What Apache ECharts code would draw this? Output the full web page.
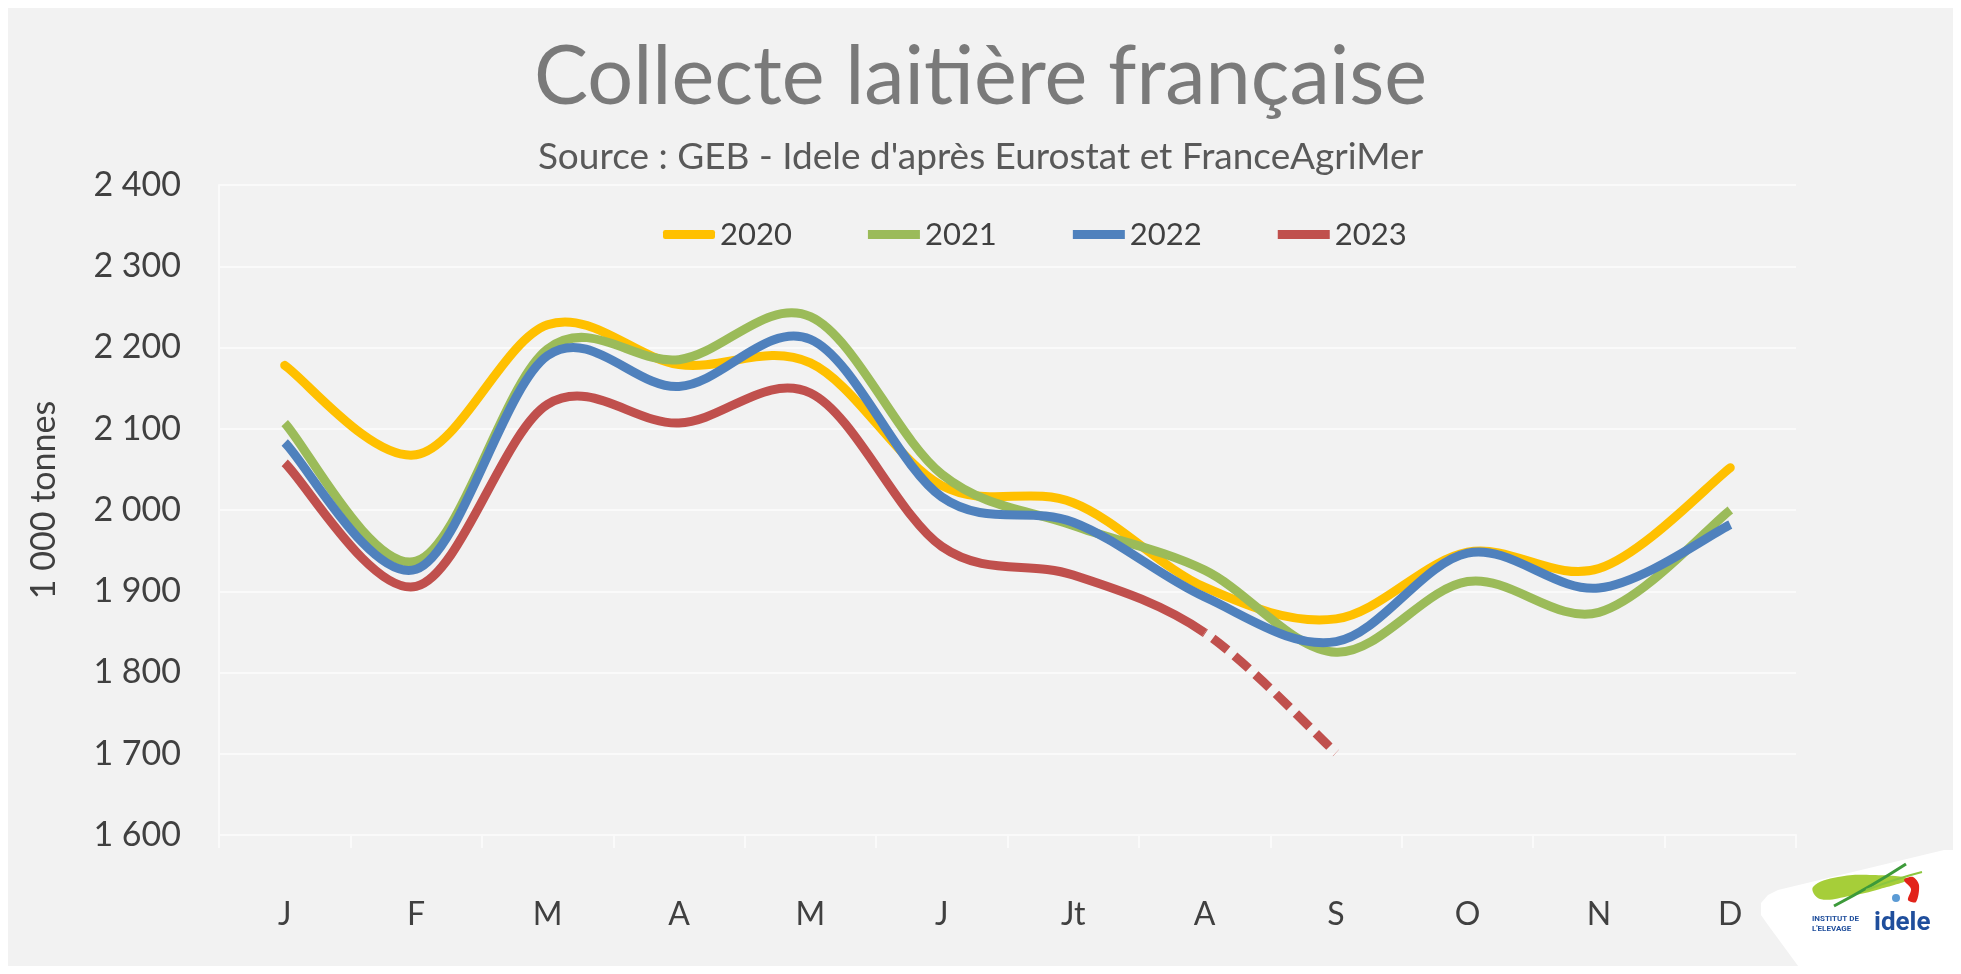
<!DOCTYPE html>
<html>
<head>
<meta charset="utf-8">
<title>Collecte laitière française</title>
<script src="https://cdn.jsdelivr.net/npm/echarts@6/dist/echarts.min.js"></script>
<style>
  html, body { margin: 0; padding: 0; background: #ffffff; }
  #chart { position: absolute; left: 8px; top: 8px; width: 1945px; height: 958px; }
</style>
</head>
<body>
<div id="chart"></div>
<script>
// months as printed under the axis
const months = ["J", "F", "M", "A", "M", "J", "Jt", "A", "S", "O", "N", "D"];

// milk collection, 1 000 tonnes
const collecte2020 = [2178, 2068, 2228, 2179, 2181, 2030, 2009, 1905, 1866, 1948, 1928, 2052];
const collecte2021 = [2107, 1937, 2198, 2185, 2238, 2044, 1981, 1926, 1825, 1912, 1874, 2000];
const collecte2022 = [2083, 1927, 2190, 2152, 2210, 2016, 1985, 1893, 1838, 1947, 1904, 1982];
const collecte2023 = [2058, 1906, 2130, 2107, 2144, 1955, 1920, 1849, 1701];
// from this month on 2023 is an estimate (dashed)
const estimateFrom = 7;

const yTicks = [1600, 1700, 1800, 1900, 2000, 2100, 2200, 2300, 2400];

const FONT = "Lato, 'Open Sans', sans-serif";

function fmtThousands(v) {
  return String(v).replace(/\B(?=(\d{3})+$)/, " ");
}

// Excel-like smoothing (Catmull-Rom, tension 1/6) between pixel points i and i+1
function segment(pts, i) {
  const p0 = pts[i - 1] || pts[i];
  const p1 = pts[i];
  const p2 = pts[i + 1];
  const p3 = pts[i + 2] || pts[i + 1];
  const c1x = p1[0] + (p2[0] - p0[0]) / 6;
  const c1y = p1[1] + (p2[1] - p0[1]) / 6;
  const c2x = p2[0] - (p3[0] - p1[0]) / 6;
  const c2y = p2[1] - (p3[1] - p1[1]) / 6;
  return " C" + c1x + "," + c1y + " " + c2x + "," + c2y + " " + p2[0] + "," + p2[1];
}

function pathBetween(pts, from, to) {
  let d = "M" + pts[from][0] + "," + pts[from][1];
  for (let i = from; i < to; i++) d += segment(pts, i);
  return d;
}

// one smoothed line per year, drawn through the cartesian axes with api.coord
function yearSeries(name, values, color, z, opts) {
  const o = opts || {};
  const dashFrom = o.dashFrom == null ? values.length - 1 : o.dashFrom;
  return {
    name: name,
    type: "custom",
    coordinateSystem: "cartesian2d",
    encode: { x: 0, y: 1 },
    data: values.map((v, i) => [i, v]),
    itemStyle: { color: color },
    z: z,
    renderItem: (params, api) => {
      if (params.dataIndex !== 0) return null;
      const pts = values.map((v, i) => api.coord([i, v]));
      const children = [
        {
          type: "path",
          shape: { pathData: pathBetween(pts, 0, dashFrom) },
          style: { fill: null, stroke: color, lineWidth: 9, lineCap: o.cap || "butt", lineJoin: "round" },
        },
      ];
      if (dashFrom < values.length - 1) {
        children.push({
          type: "path",
          shape: { pathData: pathBetween(pts, dashFrom, values.length - 1) },
          style: { fill: null, stroke: color, lineWidth: 9, lineDash: [19, 9], lineDashOffset: -10 },
        });
      }
      return { type: "group", children: children };
    },
  };
}

const chart = echarts.init(document.getElementById("chart"), null, { renderer: "canvas" });

chart.setOption({
  animation: false,
  backgroundColor: "#f2f2f2",
  textStyle: { fontFamily: FONT },
  title: [
    {
      text: "Collecte laitière française",
      left: "center",
      top: 24,
      textStyle: { fontFamily: FONT, fontSize: 81, fontWeight: "normal", color: "#7a7a7a" },
    },
    {
      text: "Source : GEB - Idele d'après Eurostat et FranceAgriMer",
      left: "center",
      top: 126,
      textStyle: { fontFamily: FONT, fontSize: 37, fontWeight: "normal", color: "#595959" },
    },
  ],
  legend: {
    left: 650,
    top: 206,
    itemWidth: 52,
    itemHeight: 9,
    itemGap: 76,
    textStyle: { fontFamily: FONT, fontSize: 31, color: "#404040" },
    data: [
      { name: "2020", icon: "roundRect" },
      { name: "2021", icon: "rect" },
      { name: "2022", icon: "rect" },
      { name: "2023", icon: "rect" },
    ],
  },
  grid: {
    left: 211,
    right: 157,
    top: 177,
    bottom: 131,
    containLabel: false,
  },
  xAxis: {
    type: "category",
    data: months,
    boundaryGap: true,
    axisLine: { lineStyle: { color: "#fafafa", width: 2 } },
    axisTick: { show: true, length: 13, lineStyle: { color: "#fafafa", width: 2 } },
    axisLabel: { color: "#404040", fontFamily: FONT, fontSize: 32, margin: 64 },
  },
  yAxis: {
    type: "value",
    min: yTicks[0],
    max: yTicks[yTicks.length - 1],
    interval: 100,
    name: "1 000 tonnes",
    nameLocation: "middle",
    nameRotate: 90,
    nameGap: 158,
    nameTextStyle: { color: "#404040", fontFamily: FONT, fontSize: 34, padding: [0, 0, 0, 20] },
    axisLine: { show: true, lineStyle: { color: "#fafafa", width: 2 } },
    axisTick: { show: false },
    axisLabel: {
      color: "#404040",
      fontFamily: FONT,
      fontSize: 34,
      margin: 38,
      formatter: (v) => fmtThousands(v),
    },
    splitLine: { lineStyle: { color: "#fafafa", width: 2 } },
  },
  series: [
    yearSeries("2020", collecte2020, "#ffc000", 2, { cap: "round" }),
    yearSeries("2021", collecte2021, "#9bbb59", 3),
    yearSeries("2022", collecte2022, "#4f81bd", 4),
    yearSeries("2023", collecte2023, "#c0504d", 5, { dashFrom: estimateFrom }),
  ],
  graphic: [
    {
      // white patch holding the Idele logo
      type: "polygon",
      shape: {
        points: [
          [1936, 842], [1953, 842], [1953, 966], [1796, 966],
          [1760, 917], [1753, 907], [1753, 895], [1760, 887], [1770, 882],
        ],
      },
      style: { fill: "#ffffff" },
      z: 100,
    },
    {
      type: "polygon",
      shape: {
        points: [[1805, 879], [1830, 869], [1865, 867], [1900, 871], [1872, 881], [1842, 888], [1812, 891]],
        smooth: 0.4,
      },
      style: { fill: "#a6ce39" },
      z: 101,
    },
    {
      type: "bezierCurve",
      shape: { x1: 1826, y1: 898, cpx1: 1864, cpy1: 878, x2: 1898, y2: 856 },
      style: { fill: null, stroke: "#3d9a3a", lineWidth: 3 },
      z: 101,
    },
    {
      type: "bezierCurve",
      shape: { x1: 1858, y1: 882, cpx1: 1890, cpy1: 870, x2: 1914, y2: 864 },
      style: { fill: null, stroke: "#8cc63f", lineWidth: 2 },
      z: 101,
    },
    {
      type: "polygon",
      shape: {
        points: [[1896, 872], [1905, 869], [1911, 877], [1908, 894], [1900, 892], [1903, 881]],
        smooth: 0.3,
      },
      style: { fill: "#e2231a" },
      z: 101,
    },
    {
      type: "circle",
      shape: { cx: 1888, cy: 890, r: 4 },
      style: { fill: "#5b9bd5" },
      z: 101,
    },
    {
      type: "text",
      left: 1804,
      top: 906,
      style: {
        text: "INSTITUT DE\nL'ELEVAGE",
        fill: "#1f4e9c",
        font: "bold 8px 'Liberation Sans Narrow', 'Roboto', sans-serif",
        lineHeight: 10,
      },
      z: 101,
    },
    {
      type: "text",
      left: 1866,
      top: 902,
      style: {
        text: "idele",
        fill: "#1f4e9c",
        font: "bold 26px 'Liberation Sans Narrow', 'Roboto', sans-serif",
      },
      z: 101,
    },
  ],
});
</script>
</body>
</html>
